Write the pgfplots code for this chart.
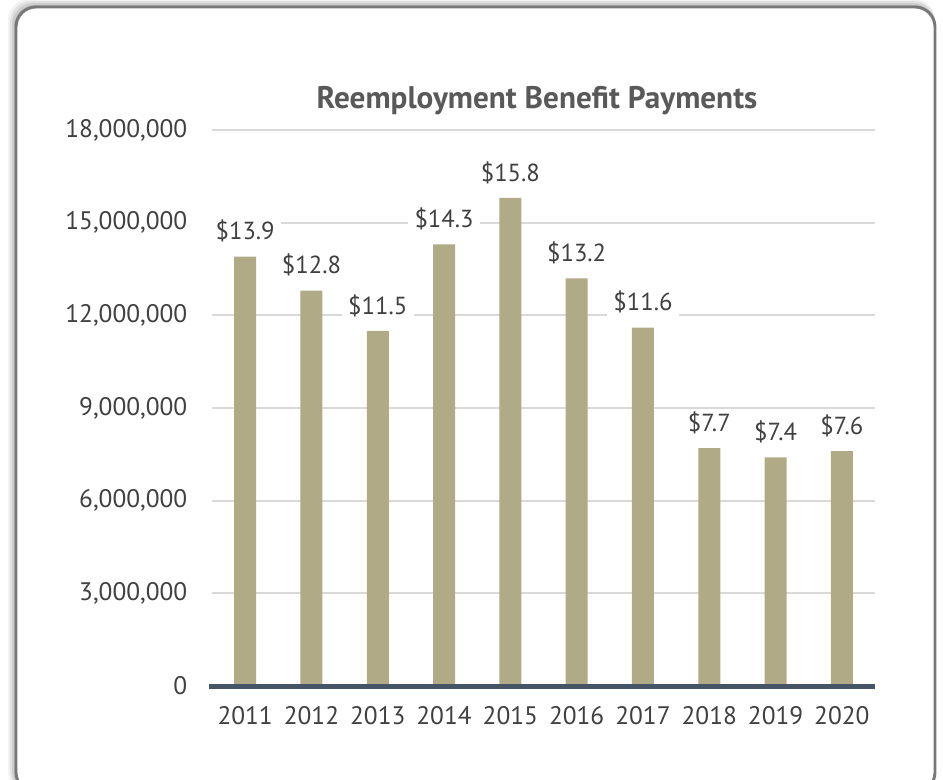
\documentclass[border=0pt]{standalone}
\usepackage{fontspec}
\setmainfont{PT Sans}
\usepackage{pgfplots}
\pgfplotsset{compat=1.18}

\definecolor{barkhaki}{RGB}{177,170,134}
\definecolor{baseblue}{RGB}{70,85,102}
\definecolor{gridgray}{RGB}{217,217,217}
\definecolor{txtgray}{RGB}{64,64,64}
\definecolor{titlegray}{RGB}{89,89,89}
\definecolor{framegray}{RGB}{120,120,120}

\begin{document}
\begin{tikzpicture}
\useasboundingbox (0,0) rectangle (707.25pt,584.25pt);
% panel with a soft shadow
\foreach \o/\a in {6/0.05,4.5/0.07,3/0.09,1.5/0.12}{
  \fill[black,opacity=\a,rounded corners=16pt] (12pt-\o pt,-10pt) rectangle (701.25pt,579pt+\o pt);
}
\draw[line width=2.2pt,framegray,fill=white,rounded corners=15pt] (12pt,-10pt) rectangle (701.25pt,579pt);

\node[font=\bfseries\fontsize{23.4}{28}\selectfont,text=titlegray] at (402.75pt,509pt) {Reemployment Benefit Payments};

\begin{axis}[
    at={(159pt,69.75pt)},
    anchor=south west,
    scale only axis,
    width=497.25pt,
    height=417pt,
    xmin=-0.5, xmax=9.5,
    ymin=0, ymax=18000000,
    axis line style={draw=none},
    major tick length=0pt,
    xtick={0,1,2,3,4,5,6,7,8,9},
    xticklabels={2011,2012,2013,2014,2015,2016,2017,2018,2019,2020},
    ytick={0,3000000,6000000,9000000,12000000,15000000,18000000},
    scaled y ticks=false,
    /pgf/number format/.cd, fixed, 1000 sep={,}, assume math mode=true,
    /pgfplots/.cd,
    ymajorgrids,
    grid style={line width=1.5pt,gridgray},
    tick label style={font=\fontsize{19}{23}\selectfont,text=txtgray},
    yticklabel style={xshift=-15pt},
    xticklabel style={yshift=-12pt},
    clip=false,
]
\addplot[ybar, bar width=16.5pt, fill=barkhaki, draw=none,
    point meta=explicit symbolic,
    nodes near coords,
    every node near coord/.append style={anchor=center, yshift=19pt, fill=white,
        inner xsep=5pt, inner ysep=2pt, text=txtgray, font=\fontsize{18.5}{22}\selectfont}]
coordinates {
(0,13900000) [\$13.9]
(1,12800000) [\$12.8]
(2,11500000) [\$11.5]
(3,14300000) [\$14.3]
(4,15800000) [\$15.8]
(5,13200000) [\$13.2]
(6,11600000) [\$11.6]
(7,7700000) [\$7.7]
(8,7400000) [\$7.4]
(9,7600000) [\$7.6]
};
\draw[line width=3.75pt,baseblue] (axis cs:-0.55,0) -- (axis cs:9.5,0);
\end{axis}
\end{tikzpicture}
\end{document}
